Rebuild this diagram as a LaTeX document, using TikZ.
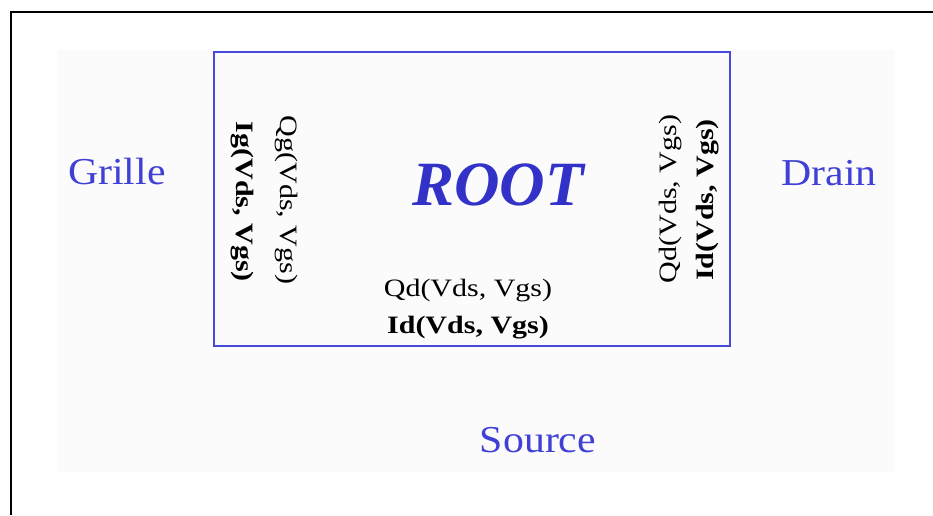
\documentclass[tikz,border=0pt]{standalone}
\usepackage{fontspec}
\setmainfont{Liberation Serif}
\definecolor{boxblue}{RGB}{72,72,220}
\definecolor{lblblue}{RGB}{64,64,214}
\definecolor{rootblue}{RGB}{50,50,200}
\definecolor{faintgrey}{RGB}{251,251,251}
\tikzset{
  frameline/.style={draw=black,line width=2pt},
  rootbox/.style={draw=boxblue,line width=2pt},
  terminal/.style={text=lblblue,font=\fontsize{38}{40}\selectfont,inner sep=0pt,anchor=base,xscale=1.1},
  rootlabel/.style={text=rootblue,font=\fontsize{63}{66}\selectfont\bfseries\itshape,inner sep=0pt,anchor=base},
  fnlabel/.style={text=black,font=\fontsize{25}{27}\selectfont,inner sep=0pt},
  fnbold/.style={fnlabel,font=\fontsize{25}{27}\selectfont\bfseries},
}
\begin{document}
\begin{tikzpicture}[x=1pt,y=-1pt]
\useasboundingbox (0,0) rectangle (933,515);
\fill[faintgrey] (57,50) rectangle (895,472);
\draw[frameline] (11,515) -- (11,12) -- (933,12);
\draw[rootbox] (214,52) rectangle (730,346);
\node[rootlabel] (root) at (498,205) {ROOT};
\node[terminal] (grille) at (117,184) {Grille};
\node[terminal] (drain) at (829,185) {Drain};
\node[terminal] (source) at (538,452) {Source};
\node[fnbold,rotate=-90,xscale=1.2] (ig) at (242,202) {Ig(Vds, Vgs)};
\node[fnlabel,rotate=-90,xscale=1.2] (qg) at (286,200) {Qg(Vds, Vgs)};
\node[fnlabel,rotate=90,xscale=1.2] (qd) at (671,199) {Qd(Vds, Vgs)};
\node[fnbold,rotate=90,xscale=1.2] (idr) at (708,200) {Id(Vds, Vgs)};
\node[fnlabel,anchor=base,xscale=1.2] (qs) at (468,296) {Qd(Vds, Vgs)};
\node[fnbold,anchor=base,xscale=1.2] (is) at (468,333) {Id(Vds, Vgs)};
\end{tikzpicture}
\end{document}
